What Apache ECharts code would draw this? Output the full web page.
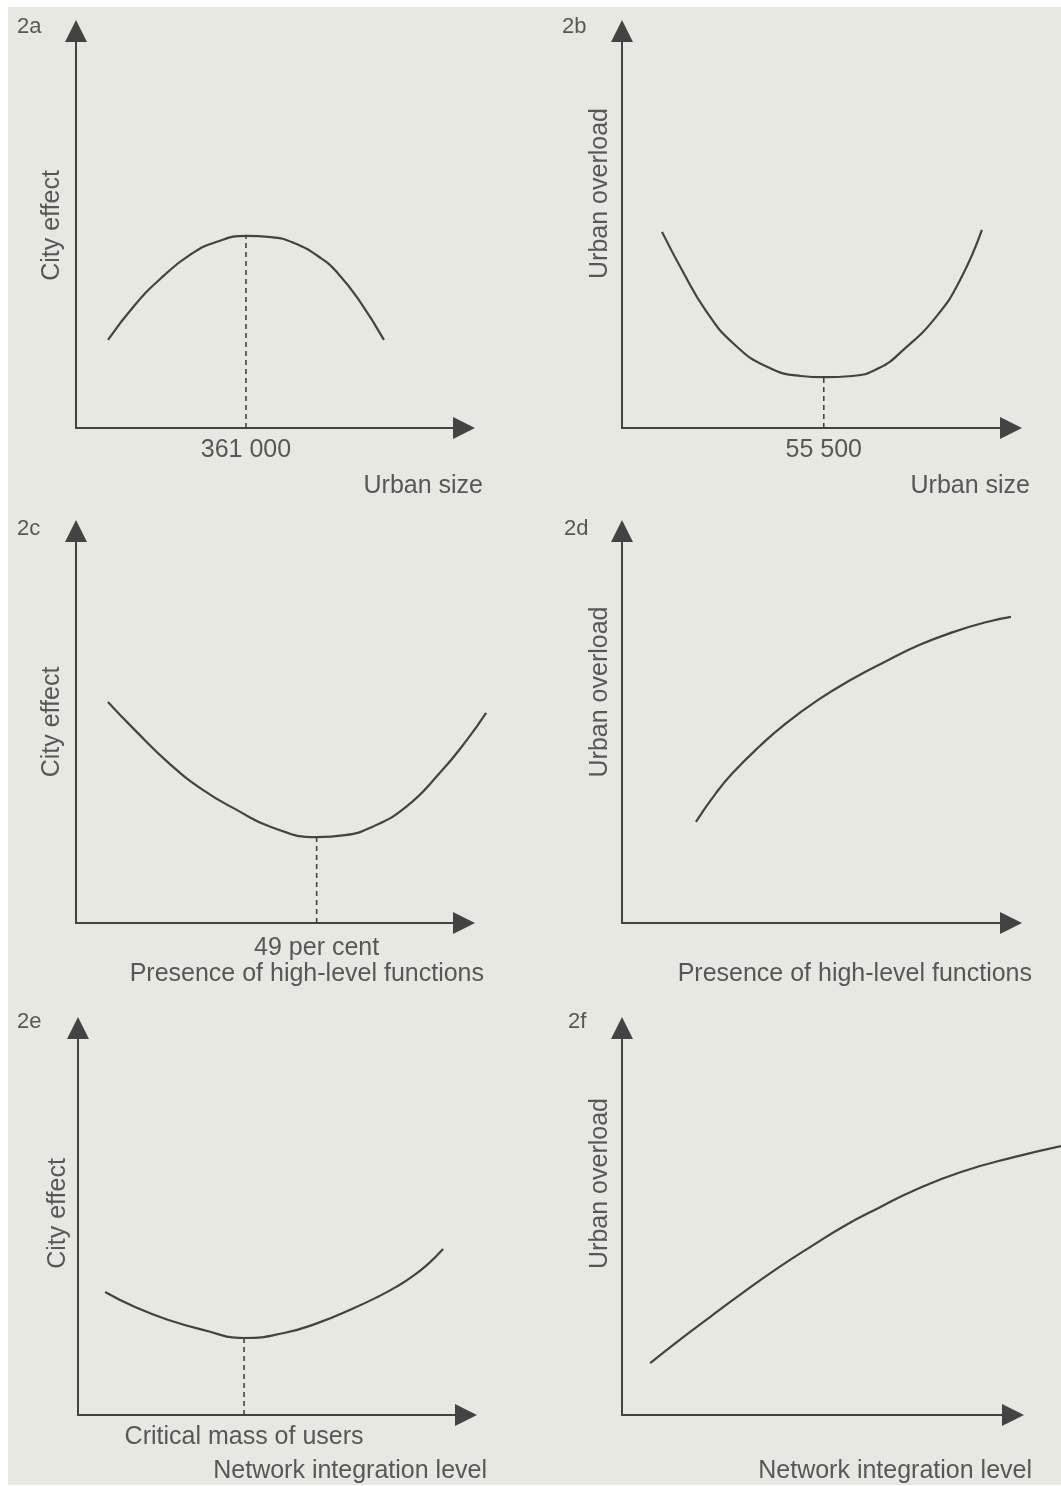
<!DOCTYPE html>
<html>
<head>
<meta charset="utf-8">
<script src="https://cdn.jsdelivr.net/npm/echarts@6/dist/echarts.min.js"></script>
<style>
  html, body { margin: 0; padding: 0; background: #ffffff; }
  #sheet { position: absolute; left: 8px; top: 7px; right: 0; bottom: 1px; background: #e8e8e2; }
  #chart { position: absolute; left: 0; top: 0; width: 1061px; height: 1486px; }
</style>
</head>
<body>
<div id="sheet"></div>
<div id="chart"></div>
<script>
// 2a: city effect against urban size (inhabitants)
const sizeA   = [68000, 125000, 183000, 242000, 299000, 361000, 414000, 463000, 520000, 556000, 601000, 654000];
const effectA = [22.2, 31.0, 38.0, 43.6, 46.9, 48.4, 48.1, 46.6, 42.8, 39.0, 32.2, 22.2];
const optimumSizeA = 361000;

// 2b: urban overload against urban size (inhabitants)
const sizeB     = [11000, 16500, 23100, 30500, 39900, 49200, 55500, 63300, 70700, 77300, 86400, 93000, 99000];
const overloadB = [49.4, 39.8, 29.5, 21.4, 15.4, 13.1, 12.8, 13.1, 15.1, 19.6, 28.0, 37.3, 49.9];
const optimumSizeB = 55500;

// 2c: city effect against presence of high-level functions (per cent)
const shareC  = [6.5, 12.0, 18.9, 25.9, 32.8, 39.7, 49, 54.8, 60.3, 67.2, 74.1, 79.6, 83.5];
const effectC = [56.4, 49.2, 40.8, 33.9, 28.8, 24.5, 21.9, 22.4, 24.5, 29.6, 38.3, 46.7, 53.6];
const thresholdShareC = 49;

// 2d: urban overload against presence of high-level functions
const shareD    = [19.0, 24.2, 28.5, 35.5, 41.6, 50.4, 59.1, 67.9, 76.4, 85.1, 93.8, 100];
const overloadD = [25.8, 33.2, 38.3, 45.2, 50.5, 56.9, 62.2, 66.8, 70.9, 74.2, 76.8, 78.1];

// 2e: city effect against network integration level
const levelE  = [7.0, 14.7, 23.5, 32.2, 42.8, 53.1, 61.9, 70.6, 77.6, 82.0, 86.3, 90.2, 94.1];
const effectE = [31.8, 27.9, 24.5, 22.0, 19.9, 21.2, 23.8, 27.4, 30.7, 33.1, 35.9, 39.0, 42.9];
const criticalMassE = 42.8;
const criticalMassLabel = 'Critical mass of users';

// 2f: urban overload against network integration level
const levelF    = [7.2, 14.1, 22.5, 31.2, 39.9, 48.6, 57.3, 66.0, 74.4, 86.7, 100.5, 112.3];
const overloadF = [13.4, 18.9, 25.3, 31.8, 38.0, 43.7, 49.1, 53.7, 57.9, 62.8, 66.7, 69.5];

const INK = '#434343';
const TEXT = '#575757';
const FONT = '"Liberation Sans", Arial, Helvetica, sans-serif';
const WIDTH = 1061;
const PLOT_EXTRA = 80;   // the curves may run past the arrow tip

const spaced = v => String(Math.round(v)).replace(/\B(?=(\d{3})+(?!\d))/g, ' ');

const panels = [
  { tag: '2a', tagPos: [17, 16],
    grid: { left: 76, top: 31, width: 388, height: 397 }, xMax: 824000,
    x: sizeA, y: effectA, mark: optimumSizeA, markText: spaced, labelMargin: 10,
    xName: 'Urban size', xNameGap: 19, xNameDrop: 46,
    yName: 'City effect', yNameGap: 11, yNameRise: 4 },
  { tag: '2b', tagPos: [562, 16],
    grid: { left: 622, top: 31, width: 389, height: 397 }, xMax: 107000,
    x: sizeB, y: overloadB, mark: optimumSizeB, markText: spaced, labelMargin: 10,
    xName: 'Urban size', xNameGap: 19, xNameDrop: 46,
    yName: 'Urban overload', yNameGap: 9, yNameRise: 36 },
  { tag: '2c', tagPos: [17, 518],
    grid: { left: 76, top: 531, width: 388, height: 392 }, xMax: 79,
    x: shareC, y: effectC, mark: thresholdShareC, markText: v => v + ' per cent', labelMargin: 13,
    xName: 'Presence of high-level functions', xNameGap: 20, xNameDrop: 39,
    yName: 'City effect', yNameGap: 11, yNameRise: 5 },
  { tag: '2d', tagPos: [564, 518],
    grid: { left: 622, top: 531, width: 389, height: 392 }, xMax: 100,
    x: shareD, y: overloadD, mark: null,
    xName: 'Presence of high-level functions', xNameGap: 21, xNameDrop: 39,
    yName: 'Urban overload', yNameGap: 9, yNameRise: 35 },
  { tag: '2e', tagPos: [17, 1011],
    grid: { left: 78, top: 1028, width: 388, height: 387 }, xMax: 100,
    x: levelE, y: effectE, mark: criticalMassE, markText: () => criticalMassLabel, labelMargin: 10,
    xName: 'Network integration level', xNameGap: 21, xNameDrop: 44,
    yName: 'City effect', yNameGap: 7, yNameRise: 8 },
  { tag: '2f', tagPos: [568, 1011],
    grid: { left: 622, top: 1028, width: 391, height: 387 }, xMax: 100,
    x: levelF, y: overloadF, mark: null,
    xName: 'Network integration level', xNameGap: 19, xNameDrop: 44,
    yName: 'Urban overload', yNameGap: 9, yNameRise: 38 }
];
const N = panels.length;

const axisLine = {
  show: true, onZero: false,
  symbol: ['none', 'triangle'], symbolSize: [22, 22],
  lineStyle: { color: INK, width: 2 }
};
const textStyle = { color: TEXT, fontSize: 25, fontWeight: 'normal', fontFamily: FONT };

const option = {
  animation: false,
  title: [].concat(
    // panel tags
    panels.map(p => ({
      text: p.tag, left: p.tagPos[0], top: p.tagPos[1], padding: 0,
      textStyle: Object.assign({}, textStyle, { fontSize: 22 })
    })),
    // horizontal axis titles, right-aligned under the arrow
    panels.map(p => ({
      text: p.xName, padding: 0,
      right: WIDTH - (p.grid.left + p.grid.width + p.xNameGap),
      top: p.grid.top + p.grid.height + p.xNameDrop,
      textStyle: textStyle
    }))
  ),
  // frames carrying the arrowed axes, then wider plot areas sharing their scales
  grid: [].concat(
    panels.map(p => Object.assign({ outerBoundsMode: 'none', containLabel: false }, p.grid)),
    panels.map(p => Object.assign({ outerBoundsMode: 'none', containLabel: false }, p.grid,
      { width: p.grid.width + PLOT_EXTRA }))
  ),
  xAxis: [].concat(
    panels.map((p, i) => ({
      gridIndex: i, type: 'value', min: 0, max: p.xMax,
      axisLine: axisLine, axisTick: { show: false }, splitLine: { show: false },
      axisLabel: p.mark != null
        ? Object.assign({ show: true, customValues: [p.mark], formatter: p.markText,
            margin: p.labelMargin }, textStyle)
        : { show: false }
    })),
    panels.map((p, i) => ({
      gridIndex: N + i, type: 'value', show: false, min: 0,
      max: p.xMax * (p.grid.width + PLOT_EXTRA) / p.grid.width
    }))
  ),
  yAxis: [].concat(
    panels.map((p, i) => ({
      gridIndex: i, type: 'value', min: 0, max: 100,
      axisLine: axisLine, axisTick: { show: false }, splitLine: { show: false },
      axisLabel: { show: false },
      name: p.yName, nameLocation: 'middle', nameGap: p.yNameGap, nameMoveOverlap: false,
      nameTextStyle: Object.assign({ padding: [0, 0, 0, 2 * p.yNameRise] }, textStyle)
    })),
    panels.map((p, i) => ({
      gridIndex: N + i, type: 'value', show: false, min: 0, max: 100
    }))
  ),
  series: []
};

panels.forEach((p, i) => {
  option.series.push({
    type: 'line', xAxisIndex: N + i, yAxisIndex: N + i, smooth: 0.5, clip: false,
    showSymbol: false, silent: true,
    lineStyle: { color: INK, width: 2.2 },
    data: p.x.map((v, k) => [v, p.y[k]])
  });
  if (p.mark != null) {
    // dashed drop line from the curve's turning point down to the axis
    const top = p.y[p.x.indexOf(p.mark)];
    option.series.push({
      type: 'line', xAxisIndex: N + i, yAxisIndex: N + i, clip: false,
      showSymbol: false, silent: true,
      lineStyle: { color: INK, width: 1.6, type: [5, 4] },
      data: [[p.mark, 0], [p.mark, top]]
    });
  }
});

const chart = echarts.init(document.getElementById('chart'), null, { renderer: 'canvas' });
chart.setOption(option);
</script>
</body>
</html>
